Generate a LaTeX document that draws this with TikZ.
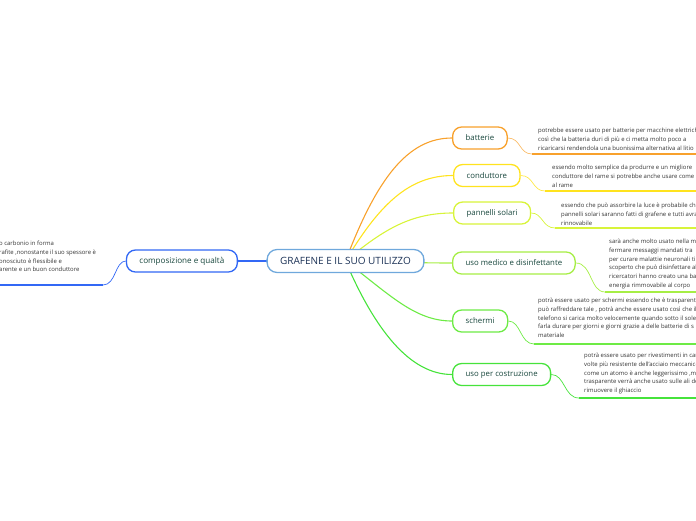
\documentclass[tikz,border=0pt]{standalone}
\usepackage{fontspec}
\setmainfont{Open Sans}
\usetikzlibrary{backgrounds}
\definecolor{orangeC}{HTML}{F8A12C}
\definecolor{yellowC}{HTML}{FFE31E}
\definecolor{limeC}{HTML}{D8F43A}
\definecolor{lgreenC}{HTML}{A6EE45}
\definecolor{greenC}{HTML}{6DEB45}
\definecolor{greenB}{HTML}{46E33B}
\definecolor{blueC}{HTML}{3268F5}
\definecolor{centralC}{HTML}{6FA8DC}
\definecolor{nodetext}{HTML}{17463C}
\definecolor{centraltext}{HTML}{1D3357}
\definecolor{notetext}{HTML}{333333}
\begin{document}
\begin{tikzpicture}[x=1pt,y=-1pt,
  branch/.style={draw, line width=1.3pt, rounded corners=9pt, fill=white,
    minimum height=22pt, inner xsep=13pt, inner ysep=0pt,
    font=\fontsize{7.8}{9}\selectfont, text=nodetext},
  centralbox/.style={draw=centralC, line width=1.3pt, rounded corners=10pt, fill=white,
    minimum height=23pt, inner xsep=13pt, inner ysep=0pt,
    font=\fontsize{10}{12}\selectfont, text=centraltext},
  note/.style={anchor=north west, align=left, inner sep=0pt,
    font=\fontsize{5.95}{8.9}\selectfont, text=notetext},
  link/.style={line width=1.1pt},
  slink/.style={line width=0.7pt},
  uline/.style={line width=1.8pt},
]
\useasboundingbox (0,0) rectangle (696,520);

% nodes
\node[centralbox] (c) at (345.5,261) {GRAFENE E IL SUO UTILIZZO};
\node[branch, draw=blueC, anchor=east, font=\fontsize{8.1}{9}\selectfont] (comp) at (238,261) {composizione e qualtà};
\node[branch, draw=orangeC, anchor=west] (bat) at (452,138) {batterie};
\node[branch, draw=yellowC, anchor=west] (cond) at (453,175.5) {conduttore};
\node[branch, draw=limeC, anchor=west] (pan) at (453,213) {pannelli solari};
\node[branch, draw=lgreenC, anchor=west] (med) at (452,263) {uso medico e disinfettante};
\node[branch, draw=greenC, anchor=west] (sch) at (452,321) {schermi};
\node[branch, draw=greenB, anchor=west] (cos) at (452,374.5) {uso per costruzione};

% notes
\node[note] (ncomp) at (-1,240.5) {o carbonio in forma\\rafite ,nonostante il suo spessore è\\onosciuto è flessibile e\\arente e un buon conduttore};
\node[note] (nbat) at (538,127.5) {potrebbe essere usato per batterie per macchine elettriche\\così che la batteria duri di più e ci metta molto poco a\\ricaricarsi rendendola una buonissima alternativa al litio};
\node[note] (ncond) at (552,164.5) {essendo molto semplice da produrre  e un migliore\\conduttore del rame si potrebbe anche usare come alternativa\\al rame};
\node[note] (npan) at (561,202.5) {essendo che può assorbire la luce è probabile che\\pannelli solari saranno fatti di grafene e tutti avranno\\rinnovabile};
\node[note] (nmed) at (609,238.5) {sarà anche molto usato nella medicina\\fermare messaggi mandati tra\\per curare malattie neuronali ti\\scoperto che può disinfettare al\\ricercatori hanno creato una ba\\energia rimmovabile al corpo};
\node[note] (nsch) at (538,297.5) {potrà essere usato per schermi essendo che è trasparente\\può raffreddare tale , potrà anche essere usato così che il\\telefono si carica molto velocemente quando sotto il sole\\farla durare per giorni e giorni grazie a delle batterie di s\\materiale};
\node[note] (ncos) at (584,352.5) {potrà essere usato per rivestimenti in carbonio\\volte più resistente dell'acciaio meccanico\\come un atomo è anche leggerissimo ,ma\\trasparente  verrà anche usato sulle ali degli\\rimuovere il ghiaccio};

% underline anchor points
\coordinate (ucomp) at (103,285);
\coordinate (ecomp) at (-10,285);
\coordinate (ubat) at (532,154);
\coordinate (ebat) at (710,154);
\coordinate (ucond) at (545,191);
\coordinate (econd) at (710,191);
\coordinate (upan) at (555,228);
\coordinate (epan) at (710,228);
\coordinate (umed) at (605,292);
\coordinate (emed) at (710,292);
\coordinate (usch) at (534,344);
\coordinate (esch) at (710,344);
\coordinate (ucos) at (579,398);
\coordinate (ecos) at (710,398);

\begin{scope}[on background layer]
  % main connectors
  \draw[link, blueC] (c.center) -- (comp.center);
  \draw[link, orangeC] (c.center) .. controls (377,178) and (408,138) .. (bat.west);
  \draw[link, yellowC] (c.center) .. controls (380,203) and (410,175.5) .. (cond.west);
  \draw[link, limeC] (c.center) .. controls (385,228) and (412,213) .. (pan.west);
  \draw[link, lgreenC] (c.center) .. controls (400,262) and (420,263) .. (med.west);
  \draw[link, greenC] (c.center) .. controls (390,295) and (415,321) .. (sch.west);
  \draw[link, greenB] (c.center) .. controls (375,330) and (410,374.5) .. (cos.west);
  % note connectors
  \draw[slink, blueC] (comp.west) .. controls (115,261) and (116,285) .. (ucomp);
  \draw[uline, blueC] (ucomp) -- (ecomp);
  \draw[slink, orangeC!70] (bat.east) .. controls (521,138) and (519,154) .. (ubat);
  \draw[uline, orangeC] (ubat) -- (ebat);
  \draw[slink, yellowC!80] (cond.east) .. controls (534,175.5) and (532,191) .. (ucond);
  \draw[uline, yellowC] (ucond) -- (econd);
  \draw[slink, limeC] (pan.east) .. controls (543,213) and (542,228) .. (upan);
  \draw[uline, limeC] (upan) -- (epan);
  \draw[slink, lgreenC] (med.east) .. controls (592,263) and (590,292) .. (umed);
  \draw[uline, lgreenC] (umed) -- (emed);
  \draw[slink, greenC] (sch.east) .. controls (521,321) and (520,344) .. (usch);
  \draw[uline, greenC] (usch) -- (esch);
  \draw[slink, greenB] (cos.east) .. controls (565,374.5) and (564,398) .. (ucos);
  \draw[uline, greenB] (ucos) -- (ecos);
\end{scope}
\end{tikzpicture}
\end{document}
